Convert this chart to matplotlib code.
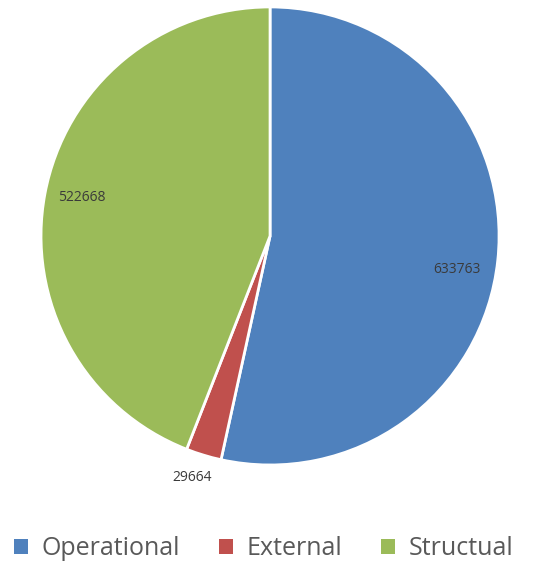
import numpy as np
import matplotlib.pyplot as plt
from matplotlib.patches import Patch

# data
categories = ["Operational", "External", "Structual"]
values = [633763, 29664, 522668]
colors = ["#4F81BD", "#C0504D", "#9BBB59"]

fig = plt.figure(figsize=(5.44, 5.69), dpi=100)
ax = fig.add_axes([0.0754, 0.1828, 0.842, 0.805])

wedges, _ = ax.pie(values, colors=colors, startangle=90, counterclock=False,
                   wedgeprops=dict(edgecolor="white", linewidth=2))
ax.set_xlim(-1, 1)
ax.set_ylim(-1, 1)
ax.set_aspect("equal")

# label distance / angle nudge per slice (small slice label sits outside)
dists = [0.83, 1.11, 0.84]
nudge = [-4, -1, -1]
for w, v, d, n in zip(wedges, values, dists, nudge):
    ang = np.deg2rad((w.theta1 + w.theta2) / 2 + n)
    ax.text(d * np.cos(ang), d * np.sin(ang), str(v), ha="center", va="center",
            fontsize=10, color="#3a3a3a", family="Open Sans")

handles = [Patch(facecolor=c, edgecolor="none") for c in colors]
fig.legend(handles, categories, loc="center", bbox_to_anchor=(0.485, 0.036),
           ncol=3, frameon=False, handlelength=0.55, handleheight=0.55,
           handletextpad=0.55, columnspacing=1.55,
           prop={"family": "Open Sans", "size": 18}, labelcolor="#595959")

fig.savefig("out.png", dpi=100)
